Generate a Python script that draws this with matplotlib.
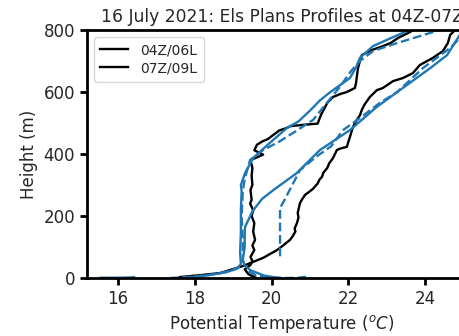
import numpy as np
import matplotlib
matplotlib.use("Agg")
import matplotlib.pyplot as plt

nan = np.nan

# 04Z/06L (black, cooler profile)
black_a_T = [19.6, 19.4, 19.3, 19.45, 19.5, 19.45, 19.55, 19.5, 19.57, 19.52, 19.55, 19.48, 19.52, 19.44, 19.48,
             19.45, 19.5, 19.48, 19.5, 19.45, 19.78, 19.55, 19.62, 19.75, 19.9, 20.05, 20.2, 20.35, 20.5,
             20.9, 21.2, 21.25, 21.3, 21.38, 21.45, 21.6, 21.8, 21.96, 22.17, 22.2, 22.22, 22.25, 22.3,
             22.35, 22.6, 22.9, 23.1, 23.3, 23.55, 23.7]
black_a_z = [0, 12, 28, 42, 55, 68, 90, 105, 123, 150, 177, 200, 219, 240, 252,
             284, 300, 330, 355, 380, 398, 412, 430, 440, 448, 462, 476, 482, 490,
             495, 498, 515, 530, 548, 565, 584, 594, 600, 613, 630, 650, 677, 700,
             719, 735, 748, 758, 775, 790, 800]

# 07Z/09L (black, warmer profile)
black_b_T = [17.61, 18.2, 18.66, 19.26, 19.78, 20.14, 20.3, 20.48, 20.55, 20.62, 20.6, 20.66, 20.7, 20.68,
             20.74, 20.8, 20.87, 21.0, 21.08, 21.15, 21.2, 21.25, 21.31, 21.35, 21.45, 21.5, 21.6, 21.65,
             21.7, 21.8, 21.96, 22.0, 22.04, 22.1, 22.15, 22.22, 22.3, 22.35, 22.4, 22.45, 22.56, 22.65,
             22.74, 22.9, 23.16, 23.42, 23.68, 23.86, 24.2, 24.46, 24.59, 24.65, 24.83]
black_b_z = [3, 10, 16, 39, 65, 90, 105, 123, 135, 150, 160, 177, 195, 210,
             242, 255, 268, 280, 288, 298, 305, 318, 326, 340, 355, 370, 387, 400,
             413, 418, 423, 440, 455, 480, 495, 510, 525, 542, 555, 565, 584, 595,
             606, 613, 635, 645, 661, 687, 710, 732, 758, 784, 806]

# Sonde profiles (blue)
blue_sa_T = [15.55, 15.8, 16.1, 16.35, 16.42, nan, 17.7, 18.3, 18.8, 19.1, 19.2, 19.18, 19.2, 19.2, 19.22,
             19.2, 19.31, 19.52, 19.9, 20.4, 20.7, 21.0, 21.26, 21.5, 21.7, 22.04, 22.2, 22.3, 22.64,
             23.0, 23.53, 23.65]
blue_sa_z = [1, 1, 1, 2, 3, nan, 0, 8, 18, 30, 45, 80, 150, 220, 280,
             300, 339, 387, 430, 484, 505, 540, 573, 597, 615, 645, 680, 710, 748,
             768, 797, 802]

blue_da_T = [17.35, 17.8, 18.4, 18.9, 19.15, 19.25, 19.25, 19.22, 19.25, 19.3, 19.44, 19.78, 20.2, 20.56,
             21.08, 21.44, 21.8, 22.05, 22.3, 22.64, 23.27, 24.3, 24.5]
blue_da_z = [0, 3, 10, 22, 35, 60, 120, 200, 280, 320, 381, 413, 440, 468,
             510, 565, 620, 665, 700, 732, 758, 797, 802]

blue_sb_T = [20.2, 19.8, 19.45, 19.3, 19.25, 19.3, 19.3, 19.31, 19.5, 19.75, 20.05, 20.65, 21.26, 22.04,
             22.74, 23.34, 24.13, 24.57, 24.9, 25.05]
blue_sb_z = [0, 8, 25, 40, 60, 100, 150, 165, 215, 255, 284, 338, 413, 477,
             552, 606, 677, 719, 784, 805]

blue_db_T = [20.9, 20.7, 20.4, 20.0, 19.6, 19.35, nan, 20.22, 20.22, 20.22, 20.35, 20.74, 21.15, 21.55,
             21.86, 22.3, 22.82, 23.27, 23.94, 24.65, 24.9, 25.05]
blue_db_z = [4, 1, 0, 2, 8, 25, nan, 70, 150, 226, 255, 348, 390, 425,
             477, 516, 565, 600, 677, 742, 774, 795]

xticks = [16, 18, 20, 22, 24]
yticks = [0, 200, 400, 600, 800]
legend_labels = ["04Z/06L", "07Z/09L"]

W, H = 460, 336
fig = plt.figure(figsize=(W / 100, H / 100), dpi=100)
left_px, right_px, top_px, bot_px = 87, 477, 30, 278
ax = fig.add_axes([left_px / W, 1 - bot_px / H, (right_px - left_px) / W, (bot_px - top_px) / H])

blue = "#1f77b4"
lw = 1.7
ax.plot(black_a_T, black_a_z, color="black", lw=lw, label=legend_labels[0])
ax.plot(black_b_T, black_b_z, color="black", lw=lw, label=legend_labels[1])
ax.plot(blue_sa_T, blue_sa_z, color=blue, lw=lw)
ax.plot(blue_da_T, blue_da_z, color=blue, lw=lw, ls="--")
ax.plot(blue_sb_T, blue_sb_z, color=blue, lw=lw)
ax.plot(blue_db_T, blue_db_z, color=blue, lw=lw, ls="--")

# x scale: 16 at px 118, 38.4 px per degree
xl = 16 + (left_px - 118) / 38.4
xr = 16 + (right_px - 118) / 38.4
ax.set_xlim(xl, xr)
ax.set_ylim(0, 800)
ax.set_xticks(xticks)
ax.set_yticks(yticks)

tc = "#262626"
for s in ax.spines.values():
    s.set_linewidth(2)
    s.set_color("black")
ax.tick_params(width=2, length=5, labelsize=12, labelcolor=tc, color="black")
ax.set_xlabel("Potential Temperature ($^oC$)", fontsize=12, color=tc)
ax.set_ylabel("Height (m)", fontsize=12, color=tc)
ax.set_title("16 July 2021: Els Plans Profiles at 04Z-07Z", fontsize=12.3, color=tc)
leg = ax.legend(loc="upper left", fontsize=10, labelspacing=0.3, handletextpad=0.9,
                borderpad=0.45)
for t in leg.get_texts():
    t.set_color(tc)

fig.savefig("out.png", dpi=100)
